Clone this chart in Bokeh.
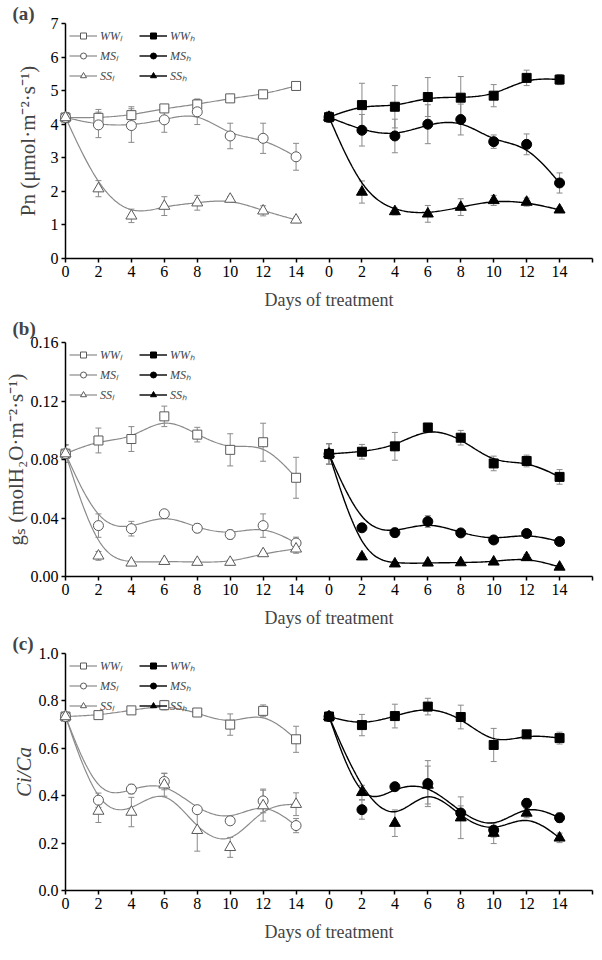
import numpy as np
from bokeh.plotting import figure
from bokeh.models import (Range1d, FixedTicker, Legend, LegendItem, Whisker,
                          TeeHead, ColumnDataSource, NumeralTickFormatter, Title)
from bokeh.layouts import column
from bokeh.embed import file_html
from bokeh.resources import INLINE

# ---------------- data ----------------
days = [0, 2, 4, 6, 8, 10, 12, 14]
x_tick_labels = ["0", "2", "4", "6", "8", "10", "12", "14"]

# (a) Pn
pn_ww_l = [4.20, 4.19, 4.27, 4.47, 4.59, 4.77, 4.89, 5.14]
pn_ww_l_err = [0.15, 0.25, 0.25, 0.10, 0.15, 0.07, 0.12, 0.08]
pn_ms_l = [4.20, 3.98, 3.96, 4.13, 4.37, 3.65, 3.58, 3.03]
pn_ms_l_err = [0.15, 0.38, 0.50, 0.37, 0.38, 0.38, 0.45, 0.40]
pn_ss_l = [4.20, 2.08, 1.27, 1.56, 1.66, 1.77, 1.42, 1.15]
pn_ss_l_err = [0.15, 0.24, 0.20, 0.28, 0.22, 0.08, 0.15, 0.08]
pn_ww_h = [4.21, 4.57, 4.52, 4.81, 4.79, 4.85, 5.38, 5.33]
pn_ww_h_err = [0.15, 0.65, 0.63, 0.58, 0.63, 0.33, 0.23, 0.15]
pn_ms_h = [4.21, 3.82, 3.65, 4.00, 4.14, 3.48, 3.40, 2.25]
pn_ms_h_err = [0.15, 0.47, 0.50, 0.58, 0.46, 0.20, 0.31, 0.30]
pn_ss_h = [4.21, 1.98, 1.40, 1.33, 1.53, 1.73, 1.68, 1.45]
pn_ss_h_err = [0.15, 0.33, 0.10, 0.25, 0.25, 0.15, 0.12, 0.07]

# (b) gs
gs_ww_l = [0.084, 0.093, 0.094, 0.1095, 0.097, 0.0866, 0.0918, 0.0675]
gs_ww_l_err = [0.006, 0.0085, 0.0085, 0.007, 0.005, 0.011, 0.013, 0.014]
gs_ms_l = [0.084, 0.0348, 0.0327, 0.0429, 0.033, 0.0287, 0.0348, 0.0229]
gs_ms_l_err = [0.006, 0.008, 0.005, 0.002, 0.003, 0.003, 0.008, 0.004]
gs_ss_l = [0.084, 0.0141, 0.0093, 0.0104, 0.0098, 0.0098, 0.0157, 0.0189]
gs_ss_l_err = [0.006, 0.003, 0.0015, 0.0015, 0.0015, 0.0015, 0.0015, 0.003]
gs_ww_h = [0.0838, 0.0853, 0.089, 0.1019, 0.0949, 0.0773, 0.079, 0.0681]
gs_ww_h_err = [0.007, 0.005, 0.0095, 0.002, 0.005, 0.005, 0.004, 0.005]
gs_ms_h = [0.0838, 0.0333, 0.030, 0.0376, 0.0298, 0.025, 0.0294, 0.0239]
gs_ms_h_err = [0.007, 0.0005, 0.003, 0.004, 0.001, 0.001, 0.001, 0.001]
gs_ss_h = [0.0838, 0.0135, 0.0087, 0.0093, 0.0095, 0.010, 0.013, 0.0065]
gs_ss_h_err = [0.007, 0.002, 0.0015, 0.001, 0.001, 0.001, 0.002, 0.001]

# (c) Ci/Ca
cc_ww_l = [0.734, 0.740, 0.760, 0.782, 0.751, 0.700, 0.758, 0.638]
cc_ww_l_err = [0.01, 0.01, 0.01, 0.02, 0.005, 0.045, 0.025, 0.055]
cc_ms_l = [0.734, 0.381, 0.428, 0.460, 0.341, 0.294, 0.378, 0.274]
cc_ms_l_err = [0.01, 0.03, 0.02, 0.035, 0.01, 0.01, 0.05, 0.03]
cc_ss_l = [0.734, 0.335, 0.331, 0.446, 0.254, 0.182, 0.358, 0.364]
cc_ss_l_err = [0.01, 0.048, 0.062, 0.048, 0.088, 0.042, 0.065, 0.048]
cc_ww_h = [0.734, 0.698, 0.736, 0.776, 0.732, 0.614, 0.659, 0.643]
cc_ww_h_err = [0.01, 0.045, 0.05, 0.035, 0.05, 0.07, 0.005, 0.025]
cc_ms_h = [0.734, 0.341, 0.438, 0.451, 0.327, 0.255, 0.368, 0.307]
cc_ms_h_err = [0.01, 0.04, 0.015, 0.097, 0.03, 0.03, 0.02, 0.02]
cc_ss_h = [0.734, 0.414, 0.284, 0.445, 0.307, 0.242, 0.327, 0.222]
cc_ss_h_err = [0.01, 0.03, 0.056, 0.08, 0.088, 0.044, 0.02, 0.02]

series_labels = ["WWₗ", "MSₗ", "SSₗ", "WWₕ", "MSₕ", "SSₕ"]

# ---------------- style ----------------
SERIF = "Liberation Serif"
RIGHT_OFFSET = 16          # second block of days is drawn after the first one
GRAY_LINE = "#8a8a8a"
GRAY_MARK = "#5a5a5a"
ERR_COLOR = "#8a8a8a"
markers = ["square", "circle", "triangle"]
msizes = [9, 10, 11]


def bspline(xs, ys, n=24):
    """Uniform cubic B-spline (data points as control points, clamped ends)."""
    P = np.column_stack([xs, ys]).astype(float)
    P = np.vstack([P[0], P[0], P, P[-1], P[-1]])
    t = np.linspace(0, 1, n)
    b0 = (1 - t) ** 3 / 6
    b1 = (3 * t ** 3 - 6 * t ** 2 + 4) / 6
    b2 = (-3 * t ** 3 + 3 * t ** 2 + 3 * t + 1) / 6
    b3 = t ** 3 / 6
    out = []
    for i in range(len(P) - 3):
        seg = (np.outer(b0, P[i]) + np.outer(b1, P[i + 1]) +
               np.outer(b2, P[i + 2]) + np.outer(b3, P[i + 3]))
        out.append(seg if i == 0 else seg[1:])
    out = np.vstack(out)
    return out[:, 0], out[:, 1]


def make_panel(height, top, ymax, ystep, fmt, ylabel, ylabel_italic,
               ylabel_standoff, letter, letter_standoff, data):
    p = figure(width=594, height=height, x_range=Range1d(0, 32),
               y_range=Range1d(0, ymax), output_backend="svg",
               toolbar_location=None, min_border_left=54, min_border_right=2,
               min_border_top=top, min_border_bottom=40)
    p.xgrid.visible = False
    p.ygrid.visible = False
    p.outline_line_color = None
    p.background_fill_color = "white"

    t = Title(text=letter, align="left", offset=-53, standoff=letter_standoff,
              text_font=SERIF, text_font_style="bold", text_font_size="19px")
    p.add_layout(t, "above")

    xa = p.xaxis[0]
    xa.ticker = FixedTicker(ticks=list(range(0, 33, 2)))
    overrides = {}
    for d, lab in zip(days, x_tick_labels):
        overrides[d] = lab
        overrides[d + RIGHT_OFFSET] = lab
    overrides[32] = ""
    xa.major_label_overrides = overrides
    xa.axis_label = "Days of treatment"
    xa.axis_label_standoff = 10
    xa.axis_label_text_font = SERIF
    xa.axis_label_text_font_style = "normal"
    xa.axis_label_text_font_size = "18px"
    xa.axis_label_text_line_height = 0.75

    ya = p.yaxis[0]
    nt = int(round(ymax / ystep))
    ya.ticker = FixedTicker(ticks=[round(i * ystep, 4) for i in range(nt + 1)])
    ya.formatter = NumeralTickFormatter(format=fmt)
    ya.axis_label = ylabel
    ya.axis_label_standoff = ylabel_standoff
    ya.axis_label_text_font = SERIF
    ya.axis_label_text_font_style = "italic" if ylabel_italic else "normal"
    ya.axis_label_text_font_size = "21px"

    for ax in (xa, ya):
        ax.axis_line_width = 1.5
        ax.axis_line_color = "black"
        ax.major_tick_line_color = "black"
        ax.major_tick_line_width = 1.5
        ax.major_tick_in = 0
        ax.major_tick_out = 4
        ax.minor_tick_line_color = None
        ax.major_label_text_font = SERIF
        ax.major_label_text_font_size = "16px"
        ax.major_label_standoff = 3
        ax.major_label_text_color = "black"
    xa.major_label_text_line_height = 0.75

    items = []
    for k, (vals, errs) in enumerate(data):
        right = k >= 3
        xs = np.array(days, dtype=float) + (RIGHT_OFFSET if right else 0)
        v = np.array(vals, dtype=float)
        e = np.array(errs, dtype=float)
        src = ColumnDataSource(dict(x=xs, y=v, upper=v + e, lower=v - e))
        w = Whisker(source=src, base="x", upper="upper", lower="lower",
                    line_color=ERR_COLOR, line_width=1,
                    upper_head=TeeHead(size=6, line_color=ERR_COLOR, line_width=1),
                    lower_head=TeeHead(size=6, line_color=ERR_COLOR, line_width=1))
        p.add_layout(w)
        cx, cy = bspline(xs, v)
        lcol = "black" if right else GRAY_LINE
        lr = p.line(cx, cy, line_color=lcol, line_width=1.4 if right else 1.2)
        m = markers[k % 3]
        sr = p.scatter("x", "y", source=src, marker=m, size=msizes[k % 3],
                       line_color="black" if right else GRAY_MARK,
                       fill_color="black" if right else "white", line_width=1)
        sr.level = "overlay"
        items.append(LegendItem(label=series_labels[k], renderers=[lr, sr]))

    leg = Legend(items=items, location="top_left", ncols=2,
                 orientation="vertical", background_fill_alpha=0,
                 border_line_color=None, label_text_font=SERIF,
                 label_text_font_style="italic", label_text_font_size="12px",
                 glyph_width=28, glyph_height=15, label_height=15, label_width=36,
                 label_standoff=3, spacing=3, padding=2, margin=4)
    p.add_layout(leg)
    return p


pa = make_panel(312, 12, 7, 1, "0", "Pn (μmol·m⁻²·s⁻¹)", False, 8, "(a)", 0,
                [(pn_ww_l, pn_ww_l_err), (pn_ms_l, pn_ms_l_err), (pn_ss_l, pn_ss_l_err),
                 (pn_ww_h, pn_ww_h_err), (pn_ms_h, pn_ms_h_err), (pn_ss_h, pn_ss_h_err)])
pb = make_panel(318, 26, 0.16, 0.04, "0.00", "gₛ (molH₂O·m⁻²·s⁻¹)", False, 0, "(b)", 7,
                [(gs_ww_l, gs_ww_l_err), (gs_ms_l, gs_ms_l_err), (gs_ss_l, gs_ss_l_err),
                 (gs_ww_h, gs_ww_h_err), (gs_ms_h, gs_ms_h_err), (gs_ss_h, gs_ss_h_err)])
pc = make_panel(314, 16, 1.0, 0.2, "0.0", "Ci/Ca", True, 0, "(c)", 0,
                [(cc_ww_l, cc_ww_l_err), (cc_ms_l, cc_ms_l_err), (cc_ss_l, cc_ss_l_err),
                 (cc_ww_h, cc_ww_h_err), (cc_ms_h, cc_ms_h_err), (cc_ss_h, cc_ss_h_err)])

layout = column(pa, pb, pc, spacing=0)
open("out.html", "w").write(file_html(layout, INLINE))
